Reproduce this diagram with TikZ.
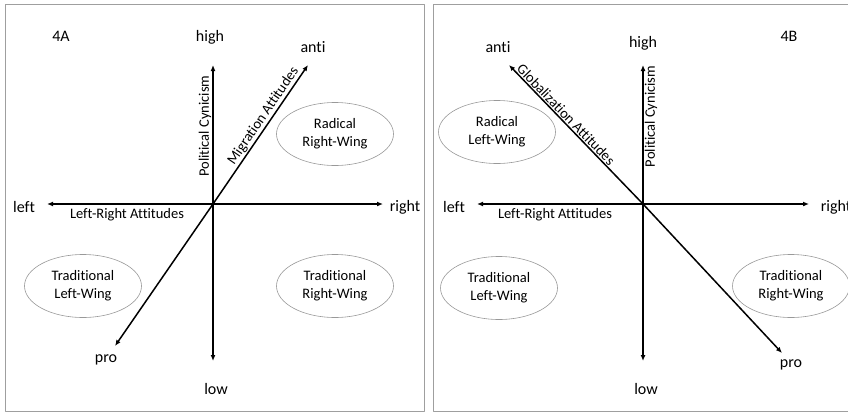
\documentclass[tikz,border=0pt]{standalone}
\usepackage{fontspec}
\setmainfont[Ligatures=NoCommon]{Carlito}
\usetikzlibrary{arrows.meta,shapes.geometric}

\tikzset{
  axis/.style={-{Latex[length=6pt,width=5pt]},line width=1.5pt},
  frame/.style={draw=gray!75,line width=1pt},
  party/.style={draw=gray!80,line width=0.6pt,ellipse,minimum width=117pt,minimum height=63pt,
    inner sep=0pt,align=center,font=\fontsize{14.5}{18}\selectfont},
  pole/.style={font=\fontsize{16}{18}\selectfont},
  axtitle/.style={font=\fontsize{14.5}{16}\selectfont,inner sep=1pt}
}

\begin{document}
\begin{tikzpicture}[x=1pt,y=-1pt,line cap=round,line join=round]
		\clip (0,0) rectangle (848,412);
		% panel 4A
		\draw [frame] (5,5) rectangle (424,411);
		\coordinate (oA) at (213,204);
		\node [pole] (hiA) at (210,37) {high};
		\node [pole] (anA) at (313,47) {anti};
		\node [pole] (loA) at (216,389) {low};
		\node [pole] (prA) at (106,360) {pro};
		\node [pole] (leA) at (24,207) {left};
		\node [pole] (riA) at (405,207) {right};
		\node [pole] (tagA) at (61,36) {4A};
		\coordinate (hiAt) at (213,65);
		\coordinate (anAt) at (308,65);
		\coordinate (loAt) at (213,361);
		\coordinate (prAt) at (115,346);
		\coordinate (leAt) at (47,204);
		\coordinate (riAt) at (383,204);
		\draw [axis] (oA) -- (leAt);
		\draw [axis] (oA) -- (riAt);
		\draw [axis] (oA) -- (hiAt) node [axtitle,pos=0.56,sloped,above] (pcA) {Political Cynicism};
		\draw [axis] (oA) -- (loAt);
		\draw [axis] (oA) -- (anAt) node [axtitle,pos=0.6,sloped,above] (maA) {Migration Attitudes};
		\draw [axis] (oA) -- (prAt);
		\node [axtitle] (lrA) at (127,215) {Left-Right Attitudes};
		\node [party] (rrwA) at (335,134) {Radical\\Right-Wing};
		\node [party] (tlwA) at (83,286) {Traditional\\Left-Wing};
		\node [party] (trwA) at (335,286) {Traditional\\Right-Wing};
		% panel 4B
		\draw [frame] (433,5) rectangle (870,411);
		\coordinate (oB) at (643,204);
		\node [pole] (hiB) at (643,43) {high};
		\node [pole] (anB) at (498,47) {anti};
		\node [pole] (loB) at (646,389) {low};
		\node [pole] (prB) at (791,365) {pro};
		\node [pole] (leB) at (454,207) {left};
		\node [pole] (riB) at (836,207) {right};
		\node [pole] (tagB) at (789,36) {4B};
		\coordinate (hiBt) at (643,65);
		\coordinate (anBt) at (509,65);
		\coordinate (loBt) at (643,361);
		\coordinate (prBt) at (782,353);
		\coordinate (leBt) at (477,204);
		\coordinate (riBt) at (809,204);
		\draw [axis] (oB) -- (leBt);
		\draw [axis] (oB) -- (riBt);
		\draw [axis] (oB) -- (hiBt) node [axtitle,pos=0.63,sloped,below] (pcB) {Political Cynicism};
		\draw [axis] (oB) -- (loBt);
		\draw [axis] (oB) -- (anBt) node [axtitle,pos=0.61,sloped,above] (gaB) {Globalization Attitudes};
		\draw [axis] (oB) -- (prBt);
		\node [axtitle] (lrB) at (555,215) {Left-Right Attitudes};
		\node [party] (rlwB) at (497,132) {Radical\\Left-Wing};
		\node [party] (tlwB) at (499,288) {Traditional\\Left-Wing};
		\node [party] (trwB) at (791,286) {Traditional\\Right-Wing};
		\end{tikzpicture}
\end{document}
